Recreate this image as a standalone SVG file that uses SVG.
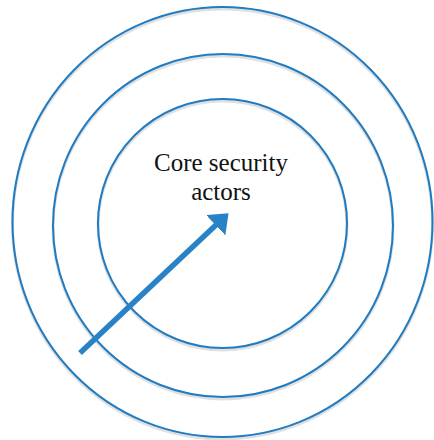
<svg xmlns="http://www.w3.org/2000/svg" width="434" height="440" viewBox="0 0 434 440">
<defs>
<style>
.ring{fill:none;stroke:#1f7bc2;stroke-width:2}
.shadow{fill:none;stroke:#000;stroke-opacity:0.12;stroke-width:3}
.label{font-family:"Liberation Serif","Times New Roman",serif;font-size:25px;fill:#111;text-anchor:middle}
</style>
<marker id="head" viewBox="0 0 10 10" refX="1" refY="5" markerWidth="3.2" markerHeight="5.1" orient="auto" markerUnits="strokeWidth" preserveAspectRatio="none">
<path d="M0,0 L10,5 L0,10 Z" fill="#2a82c6"/>
</marker>
</defs>
<rect width="434" height="440" fill="#fff"/>
<g id="outer-ring">
<ellipse class="shadow" cx="222.5" cy="224" rx="210" ry="215"/>
<ellipse class="ring" cx="222.5" cy="222" rx="210" ry="215"/>
</g>
<g id="middle-ring">
<ellipse class="shadow" cx="223" cy="227.5" rx="170" ry="171.5"/>
<ellipse class="ring" cx="223" cy="225.5" rx="170" ry="171.5"/>
</g>
<g id="inner-ring">
<ellipse class="shadow" cx="222.5" cy="225.5" rx="124.5" ry="124.5"/>
<ellipse class="ring" cx="222.5" cy="223.5" rx="124.5" ry="124.5"/>
<text class="label" x="221" y="171">Core security</text>
<text class="label" x="221" y="200">actors</text>
</g>
<g id="connectors">
<line x1="80" y1="353" x2="217" y2="224" stroke="#2a82c6" stroke-width="5.5" marker-end="url(#head)"/>
</g>
</svg>
